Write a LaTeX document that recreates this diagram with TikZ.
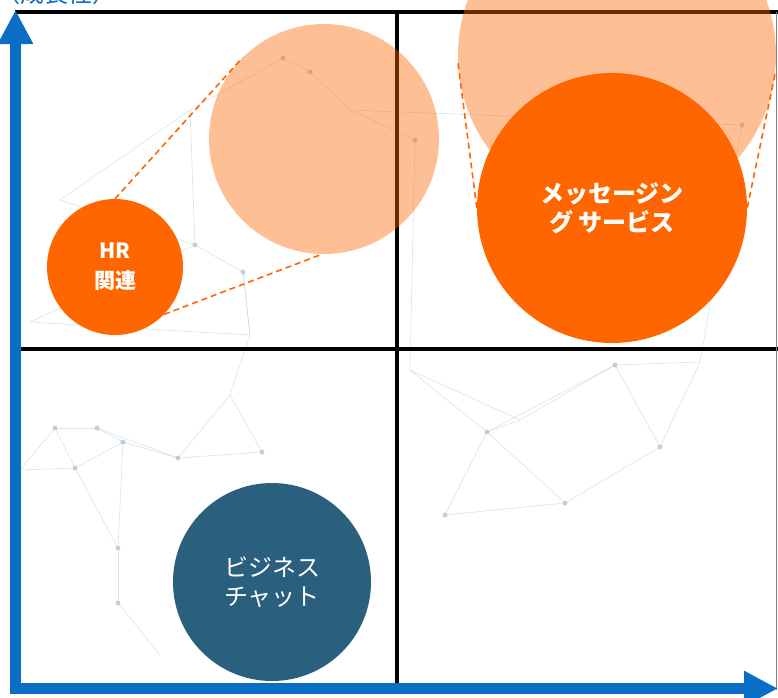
\documentclass[tikz,border=0pt]{standalone}
\usepackage{fontspec}
\usepackage{tikz}
\usetikzlibrary{arrows.meta}
\newfontfamily\jp{Noto Sans CJK JP}
\definecolor{hrorange}{RGB}{255,102,0}
\definecolor{axisblue}{RGB}{10,109,198}
\definecolor{chatblue}{RGB}{43,95,126}
\definecolor{netgray}{RGB}{170,192,212}
\tikzset{
	net/.style={draw=netgray, line width=0.6pt, opacity=0.45},
	netdot/.style={fill=netgray, opacity=0.7},
	grid/.style={line width=4.5pt, black},
	bubble/.style={circle, fill=hrorange, inner sep=0pt, text=white, align=center, font=\jp\bfseries},
	fadebubble/.style={circle, fill=hrorange, fill opacity=0.42, inner sep=0pt},
	zoomline/.style={draw=hrorange, line width=1.6pt, dash pattern=on 6pt off 4pt},
	axis/.style={draw=axisblue, line width=11pt, -{Triangle[length=34pt,width=33pt]}}
}

\begin{document}
\begin{tikzpicture}[x=1pt, y=-1pt]
					\useasboundingbox (0,0) rectangle (778,697);
					\foreach \n/\x/\y in {1/55/428, 2/97/428, 3/75/468, 4/123/442, 5/178/458, 6/262/452,
						7/118/548, 8/118/603, 9/160/655, 10/195/245, 11/243/272, 12/190/110, 13/283/58,
						14/310/72, 15/445/515, 16/487/432, 17/565/503, 18/660/447, 19/615/365, 20/700/362,
						21/742/125, 22/415/140, 23/30/322, 24/250/335, 25/60/200, 26/350/110, 27/520/420,
						28/410/370, 29/20/470, 30/230/395}
					\coordinate (p\n) at (\x,\y);
					\foreach \a/\b in {1/2, 1/3, 2/4, 3/4, 4/5, 5/6, 2/5, 3/7, 7/8, 8/9, 4/7, 1/29, 29/3,
						10/11, 10/23, 11/24, 23/24, 10/25, 25/12, 12/13, 13/14, 14/26, 26/22, 22/28, 28/16,
						16/15, 16/17, 15/17, 17/18, 18/19, 19/20, 20/18, 16/19, 27/16, 27/19, 28/27, 6/30,
						30/24, 5/30, 12/10, 24/11, 21/20, 26/21}
					\draw[net] (p\a) -- (p\b);
					\foreach \n in {1,2,3,4,5,6,7,8,10,11,13,14,15,16,17,18,19,21,22}
					\fill[netdot] (p\n) circle (2.5pt);
					\node[anchor=base east, text=axisblue, font=\jp\fontsize{24}{24}\selectfont] (ylabel) at (120,2) {魅力度（成長性）};
					\draw[grid] (15,12) -- (778,12);
					\draw[grid] (20,349) -- (778,349);
					\draw[grid] (397,12) -- (397,686);
					\draw[gray, line width=1pt] (776.5,12) -- (776.5,690);
					\node[fadebubble, minimum size=230pt] (hrfade) at (324,139) {};
					\node[fadebubble, minimum size=318pt] (msgfade) at (617,55) {};
					\node[bubble, minimum size=136pt, font=\jp\bfseries\fontsize{21}{30}\selectfont] (hr) at (115,267) {HR\\関連};
					\node[bubble, minimum size=270pt, font=\jp\bfseries\fontsize{24}{29}\selectfont] (msg) at (612,208) {メッセージン\\グ サービス};
					\node[bubble, fill=chatblue, minimum size=198pt, font=\jp\fontsize{24}{29}\selectfont] (chat) at (272,582) {ビジネス\\チャット};
					\draw[zoomline] (hr.90) -- (hrfade.135);
					\draw[zoomline] (hr.-44) -- (hrfade.-91);
					\draw[zoomline] (msgfade.183) -- (msg.180);
					\draw[zoomline] (msgfade.-7) -- (msg.0);
					\coordinate (origin) at (15.5,694);
					\coordinate (ytip) at (15.5,10);
					\coordinate (xstart) at (10,688.5);
					\coordinate (xtip) at (778,688.5);
					\draw[axis] (origin) -- (ytip);
					\draw[axis] (xstart) -- (xtip);
				\end{tikzpicture}
\end{document}
